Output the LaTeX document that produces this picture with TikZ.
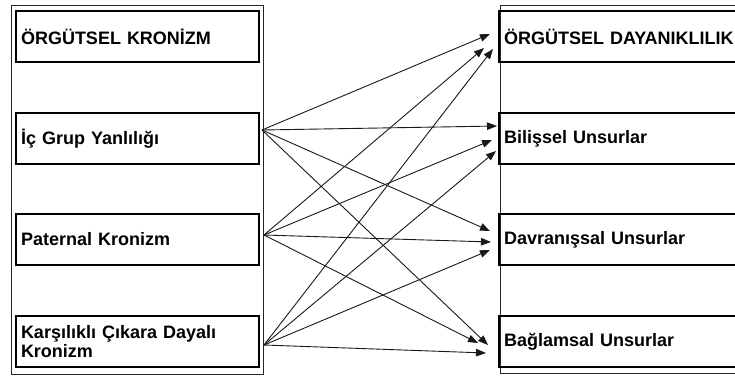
\documentclass[tikz,border=0pt]{standalone}
\usepackage{fontspec}
\setmainfont{Liberation Sans}
\usetikzlibrary{arrows.meta}
\begin{document}
\begin{tikzpicture}[x=1pt,y=-1pt,
  frame/.style={draw=black!85,line width=0.9pt},
  lbox/.style={draw=black,line width=2pt,anchor=north west,inner xsep=5pt,inner ysep=0pt,
    text width=233pt,minimum height=51pt,align=left,
    font=\fontsize{18}{19}\selectfont\bfseries},
  rbox/.style={lbox,text width=300pt},
  link/.style={draw=black!90,line width=0.9pt,-{Triangle[length=10pt,width=7.5pt]}}]
\clip (0,0) rectangle (735,376);
\fill[white] (0,0) rectangle (735,376);
% outer thin frames
\draw[frame] (11,5) rectangle (263,374);
\draw[frame] (500,5) -- (500,373);
\draw[frame] (500,5) -- (745,5);
\draw[frame] (500,373) -- (745,373);
% left boxes
\node[lbox] (L1) at (15,10) {ÖRGÜTSEL KRONİZM};
\node[lbox] (L2) at (15,112) {İç Grup Yanlılığı};
\node[lbox] (L3) at (15,213) {Paternal Kronizm};
\node[lbox] (L4) at (15,315) {Karşılıklı Çıkara Dayalı\\Kronizm};
% right boxes
\node[rbox] (R1) at (498,10) {ÖRGÜTSEL DAYANIKLILIK};
\node[rbox] (R2) at (498,112) {Bilişsel Unsurlar};
\node[rbox] (R3) at (498,213) {Davranışsal Unsurlar};
\node[rbox] (R4) at (498,315) {Bağlamsal Unsurlar};
% source points
\coordinate (s2) at (262,130);
\coordinate (s3) at (264,235);
\coordinate (s4) at (264,345);
% target tips
\coordinate (t12) at (490,34);
\coordinate (t13) at (484,48);
\coordinate (t14) at (493,49);
\coordinate (t22) at (497,126);
\coordinate (t23) at (492,140);
\coordinate (t24) at (496,151);
\coordinate (t32) at (490,231);
\coordinate (t33) at (491,242);
\coordinate (t34) at (490,250);
\coordinate (t42) at (488,345);
\coordinate (t43) at (478,343);
\coordinate (t44) at (486,353);
% connectors
\foreach \s in {2,3,4}{
  \foreach \t in {1,2,3,4}{
    \draw[link] (s\s) -- (t\t\s);
  }
}
\end{tikzpicture}
\end{document}
